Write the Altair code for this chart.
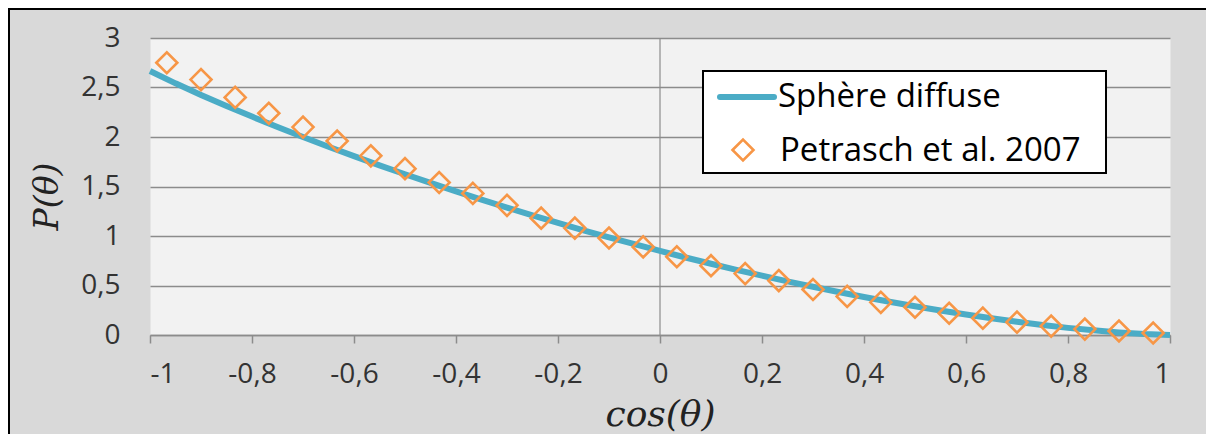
import altair as alt
import pandas as pd

# Diffuse sphere curve
line_x = [-1.0, -0.95, -0.9, -0.85, -0.8, -0.75, -0.7, -0.65, -0.6, -0.55, -0.5,
          -0.45, -0.4, -0.35, -0.3, -0.25, -0.2, -0.15, -0.1, -0.05, 0.0,
          0.05, 0.1, 0.15, 0.2, 0.25, 0.3, 0.35, 0.4, 0.45, 0.5,
          0.55, 0.6, 0.65, 0.7, 0.75, 0.8, 0.85, 0.9, 0.95, 1.0]
line_y = [2.667, 2.542, 2.425, 2.314, 2.206, 2.101, 2.000, 1.902, 1.807, 1.714, 1.624,
          1.536, 1.451, 1.368, 1.287, 1.209, 1.133, 1.058, 0.986, 0.917, 0.849,
          0.783, 0.720, 0.658, 0.599, 0.542, 0.487, 0.435, 0.384, 0.336, 0.291,
          0.248, 0.207, 0.169, 0.134, 0.101, 0.072, 0.047, 0.026, 0.009, 0.0]

# Petrasch et al. 2007 points
pts_x = [-0.967, -0.9, -0.833, -0.767, -0.7, -0.633, -0.567, -0.5, -0.433, -0.367,
         -0.3, -0.233, -0.167, -0.1, -0.033, 0.033, 0.1, 0.167, 0.233, 0.3,
         0.367, 0.433, 0.5, 0.567, 0.633, 0.7, 0.767, 0.833, 0.9, 0.967]
pts_y = [2.75, 2.58, 2.40, 2.24, 2.10, 1.96, 1.81, 1.68, 1.54, 1.43,
         1.31, 1.18, 1.08, 0.98, 0.89, 0.79, 0.70, 0.62, 0.55, 0.46,
         0.39, 0.33, 0.28, 0.22, 0.17, 0.13, 0.09, 0.06, 0.04, 0.02]

series_names = ["Sphère diffuse", "Petrasch et al. 2007"]
x_ticks = [-1, -0.8, -0.6, -0.4, -0.2, 0, 0.2, 0.4, 0.6, 0.8, 1]
y_ticks = [0, 0.5, 1, 1.5, 2, 2.5, 3]

TEAL = "#4bacc6"
ORANGE = "#f79646"
GRID = "#8c8c8c"

line_df = pd.DataFrame({"x": line_x, "y": line_y, "series": series_names[0]})
pts_df = pd.DataFrame({"x": pts_x, "y": pts_y, "series": series_names[1]})

label_expr = "replace(toString(datum.value), '.', ',')"

x_enc = alt.X("x:Q", scale=alt.Scale(domain=[-1, 1], nice=False, zero=False),
              axis=alt.Axis(values=x_ticks, labelExpr=label_expr, grid=False,
                            domainColor=GRID, domainWidth=1.5,
                            tickColor=GRID, tickWidth=1.5, tickSize=8,
                            labelFont="Open Sans", labelFontSize=28, labelColor="#333333",
                            labelPadding=17,
                            title="cos(θ)", titleFont="DejaVu Serif", titleFontStyle="italic",
                            titleFontWeight="normal", titleFontSize=36, titleColor="#222222",
                            titlePadding=9))
y_enc = alt.Y("y:Q", scale=alt.Scale(domain=[0, 3], nice=False),
              axis=alt.Axis(values=y_ticks, labelExpr=label_expr, grid=True,
                            gridColor=GRID, gridWidth=1.5, domain=False, ticks=False,
                            tickSize=0,
                            labelFont="Open Sans", labelFontSize=28, labelColor="#333333",
                            labelPadding=30,
                            title="P(θ)", titleFont="DejaVu Serif", titleFontStyle="italic",
                            titleFontWeight="normal", titleFontSize=33, titleColor="#222222",
                            titlePadding=16, titleY=158))

base_line = alt.Chart(line_df).mark_line(color=TEAL, strokeWidth=6).encode(x=x_enc, y=y_enc)

zero_rule = alt.Chart(pd.DataFrame({"x": [0]})).mark_rule(color=GRID, strokeWidth=1.2).encode(x="x:Q")

points = alt.Chart(pts_df).mark_point(filled=False, strokeWidth=2.6, size=440, opacity=1,
                                      shape="diamond", color=ORANGE).encode(
    x=alt.X("x:Q"), y=alt.Y("y:Q"))

# ---- legend box (drawn by hand) ----
one = pd.DataFrame({"k": [0]})
leg_box = alt.Chart(one).mark_rect(fill="white", stroke="black", strokeWidth=2).encode(
    x=alt.value(553), x2=alt.value(956), y=alt.value(33), y2=alt.value(135))
leg_line = alt.Chart(one).mark_rule(color=TEAL, strokeWidth=6, strokeCap="round").encode(
    x=alt.value(570), x2=alt.value(624), y=alt.value(59))
leg_pt = alt.Chart(one).mark_point(filled=False, strokeWidth=2.6, size=440, opacity=1,
                                   shape="diamond", color=ORANGE).encode(
    x=alt.value(593), y=alt.value(112))
leg_txt1 = alt.Chart(one).mark_text(
    align="left", baseline="alphabetic", font="Open Sans", fontSize=33, color="black",
    text=series_names[0]).encode(x=alt.value(628), y=alt.value(69))
leg_txt2 = alt.Chart(one).mark_text(
    align="left", baseline="alphabetic", font="Open Sans", fontSize=33, color="black",
    text=series_names[1]).encode(x=alt.value(630), y=alt.value(123))

# outer frame: left and top edges only (the right and bottom are cut off in the reference)
border_left = alt.Chart(one).mark_rule(color="black", strokeWidth=2).encode(
    x=alt.value(-141), y=alt.value(-30), y2=alt.value(420))
border_top = alt.Chart(one).mark_rule(color="black", strokeWidth=2).encode(
    x=alt.value(-142), x2=alt.value(1100), y=alt.value(-29))

chart = alt.layer(zero_rule, base_line, points, leg_box, leg_line, leg_pt,
                  leg_txt1, leg_txt2, border_left, border_top).properties(
    width=1020, height=297,
    padding={"left": 142, "top": 30, "right": 36, "bottom": 99},
    autosize=alt.AutoSizeParams(type="none"),
    background="#d9d9d9",
).configure_view(fill="#f2f2f2", stroke="transparent")

chart.save("out.html", embed_options={"renderer": "svg", "actions": False})
